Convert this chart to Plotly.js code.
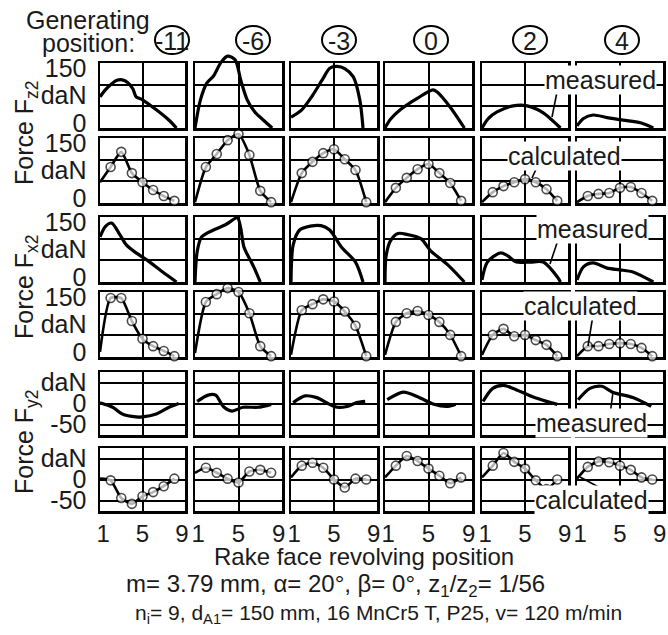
<!DOCTYPE html>
<html>
<head>
<meta charset="utf-8">
<script src="https://cdn.plot.ly/plotly-3.0.1.min.js"></script>
<style>html,body{margin:0;padding:0;background:#fff;}#chart{width:668px;height:635px;}</style>
</head>
<body>
<div id="chart"></div>
<script>
// ---------------- data ----------------
const positions = ['-11', '-6', '-3', '0', '2', '4'];
const calcX = [1, 2, 3, 4, 5, 6, 7, 8];

const xLabelVals = [1.3, 5, 8.7];          // where the 1 / 5 / 9 labels sit (kept inside each panel)
const xLabelText = ['1', '5', '9'];
const xGridVals = [5];
const fLabelVals = [12, 75, 138];          // where the 0 / daN / 150 labels sit
const fLabelText = ['0', 'daN', '150'];
const fGridVals = [50, 100];
const fyTickVals = [-50, 0, 50];
const fyTickText = ['-50', '0', 'daN'];

// Force Fz2, measured
const fzMeasX = [
  [1, 1.5, 2, 2.6, 3.1, 3.6, 4.1, 4.4, 5, 6.3, 7.5, 8.2],
  [1, 1.5, 2.1, 2.7, 3.4, 4.0, 4.7, 5.2, 5.8, 6.5, 7.3, 8.1],
  [1, 2, 3, 4, 4.6, 5.3, 6.0, 6.8, 7.4, 7.7],
  [1, 1.5, 2.4, 4.0, 5.4, 5.8, 7.0, 8.3],
  [1, 1.6, 2.4, 3.9, 5.2, 6.7, 8.0, 8.3],
  [1, 1.6, 2.5, 3.8, 5.3, 6.9, 8.1]
];
const fzMeasY = [
  [72, 88, 100, 110, 111, 105, 90, 72, 65, 42, 18, 0],
  [0, 65, 104, 120, 152, 166, 157, 111, 65, 37, 18, 0],
  [25, 42, 75, 115, 138, 142, 137, 118, 65, 0],
  [0, 20, 42, 69, 88, 83, 48, 0],
  [0, 22, 37, 51, 51, 35, 7, 0],
  [5, 22, 30, 24, 18, 12, 0]
];
// Force Fz2, calculated
const fzCalc = [
  [48, 83, 118, 69, 48, 30, 16, 5],
  [2, 83, 113, 145, 159, 111, 28, 2],
  [2, 69, 95, 115, 124, 101, 76, 2],
  [2, 35, 58, 78, 90, 69, 46, 5],
  [2, 25, 39, 48, 55, 48, 32, 5],
  [2, 16, 21, 23, 35, 37, 23, 5]
];
// Force Fx2, measured
const fxMeasX = [
  [1, 1.5, 2.1, 2.9, 3.5, 4.3, 5.4, 6.9, 8.2],
  [1, 1.2, 1.6, 2.7, 3.8, 4.9, 5.2, 5.5, 6.4, 7.0],
  [1, 1.2, 1.8, 2.8, 3.8, 4.6, 5.7, 7.0, 7.7],
  [1, 1.1, 1.5, 2.2, 3.0, 4.3, 5.2, 6.8, 8.3],
  [1, 1.5, 2.7, 3.3, 4.2, 5.5, 6.7, 8.0, 8.3],
  [1, 1.6, 2.5, 3.8, 5.0, 6.2, 8.1]
];
const fxMeasY = [
  [104, 128, 136, 108, 85, 69, 51, 23, 0],
  [0, 70, 104, 120, 132, 148, 125, 81, 35, 0],
  [0, 85, 120, 129, 130, 120, 80, 46, 0],
  [0, 60, 95, 112, 110, 100, 72, 39, 0],
  [5, 46, 67, 62, 46, 46, 46, 12, 0],
  [5, 35, 44, 32, 28, 23, 0]
];
// Force Fx2, calculated
const fxCalc = [
  [12, 136, 136, 83, 42, 25, 14, 2],
  [9, 127, 145, 159, 150, 101, 25, 2],
  [5, 108, 122, 133, 128, 105, 72, 2],
  [5, 81, 101, 106, 97, 81, 51, 2],
  [5, 51, 65, 48, 51, 39, 28, 2],
  [2, 25, 25, 30, 32, 30, 21, 2]
];
// Force Fy2, measured
const fyMeasX = [
  [1, 2.2, 3.1, 4.4, 5.0, 6.3, 7.5, 8.4],
  [1.2, 2.2, 2.9, 3.6, 4.4, 5.4, 6.8, 8.0],
  [1.2, 2.3, 3.4, 4.6, 5.3, 6.2, 7.1, 7.9],
  [1.2, 2.7, 4.0, 5.5, 6.8, 7.5],
  [1.1, 2.0, 3.0, 3.9, 5.7, 7.0, 8.0],
  [1.1, 2.2, 3.3, 4.3, 6.2, 7.9]
];
const fyMeasY = [
  [2, -9, -25, -32, -32, -25, -9, 0],
  [5, 20, 20, -7, -18, -9, -9, -2],
  [2, 18, 14, -2, -9, -7, 2, 5],
  [9, 27, 16, -2, -7, -2],
  [5, 36, 43, 36, 16, 5, -2],
  [9, 36, 41, 27, 14, -7]
];
// Force Fy2, calculated
const fyCalc = [
  [2, -2, -44, -58, -40, -30, -16, 2],
  [16, 28, 16, 2, -7, 19, 23, 16],
  [5, 33, 40, 28, 0, -19, 2, 0],
  [5, 33, 56, 44, 26, 9, -9, 5],
  [5, 33, 63, 42, 26, -2, -23, 0],
  [2, 30, 43, 41, 33, 23, 5, 0]
];

// ---------------- layout helpers ----------------
const W = 668, H = 635;
const px = v => v / W;
const py = v => 1 - v / H;
const colPx = [[100,185],[195,282],[291,377],[385,472],[482,568],[577,663]];
const rowPx = [[63,128],[138,203],[217,282],[292,357],[372,435],[448,511]];
const PAD = 18;   // extra room so curves may run past the frame, as in the original

const rowsSpec = [
  {kind: 'meas', X: fzMeasX, Y: fzMeasY, fy: false},
  {kind: 'calc', Y: fzCalc, fy: false},
  {kind: 'meas', X: fxMeasX, Y: fxMeasY, fy: false},
  {kind: 'calc', Y: fxCalc, fy: false},
  {kind: 'meas', X: fyMeasX, Y: fyMeasY, fy: true},
  {kind: 'calc', Y: fyCalc, fy: true}
];

const FONT = 'Liberation Sans, Arial, Helvetica, sans-serif';
const INK = '#1a1a1a';
const frameTraces = [];
const dataTraces = [];
const layout = {
  width: W, height: H,
  margin: {l: 0, r: 0, t: 0, b: 0},
  paper_bgcolor: '#fff', plot_bgcolor: 'rgba(0,0,0,0)',
  showlegend: false,
  font: {family: FONT, size: 25, color: INK},
  annotations: [], shapes: []
};

rowsSpec.forEach((spec, r) => {
  const yRange = spec.fy ? [-75, 75] : [0, 150];
  for (let c = 0; c < 6; c++) {
    const k = r * 6 + c + 1;
    const fs = k === 1 ? '' : String(k);
    const ds = String(k + 36);
    const [L, R] = colPx[c];
    const [T, B] = rowPx[r];

    // visible frame (border, grid, labels) - an empty trace makes Plotly draw it
    frameTraces.push({type: 'scatter', mode: 'lines', x: [], y: [], xaxis: 'x' + fs, yaxis: 'y' + fs, hoverinfo: 'skip'});
    layout['xaxis' + fs] = {
      domain: [px(L), px(R)], range: [1, 9], anchor: 'y' + fs, autorange: false,
      tickmode: 'array', tickvals: xLabelVals, ticktext: xLabelText,
      showticklabels: r === 5, ticks: '', ticklabeloverflow: 'allow', ticklabelstandoff: 0,
      showgrid: false,
      minor: {tickmode: 'array', tickvals: xGridVals, showgrid: true, gridcolor: '#000', gridwidth: 2, ticks: ''},
      showline: true, mirror: true, linecolor: '#000', linewidth: 2.5,
      zeroline: false, fixedrange: true,
      tickfont: {size: 24, family: FONT, color: INK}
    };
    const ya = {
      domain: [py(B), py(T)], range: yRange, anchor: 'x' + fs, autorange: false, ticks: '',
      showticklabels: c === 0, ticklabelstandoff: 6, ticklabeloverflow: 'allow',
      showline: true, mirror: true, linecolor: '#000', linewidth: 2.5,
      zeroline: false, fixedrange: true,
      tickfont: {size: 25, family: FONT, color: INK}
    };
    if (spec.fy) {
      Object.assign(ya, {tickmode: 'array', tickvals: fyTickVals, ticktext: fyTickText,
        showgrid: true, gridcolor: '#000', gridwidth: 2});
    } else {
      Object.assign(ya, {tickmode: 'array', tickvals: fLabelVals, ticktext: fLabelText,
        showgrid: false,
        minor: {tickmode: 'array', tickvals: fGridVals, showgrid: true, gridcolor: '#000', gridwidth: 2, ticks: ''}});
    }
    layout['yaxis' + fs] = ya;

    // data axes: same scale, slightly larger box so curves are not cut at the frame
    const pl = Math.min(PAD, L), pr = Math.min(PAD, W - R - 0.5);
    const upx = 8 / (R - L);
    const vpx = (yRange[1] - yRange[0]) / (B - T);
    layout['xaxis' + ds] = {
      domain: [px(L - pl), px(R + pr)], range: [1 - pl * upx, 9 + pr * upx], autorange: false,
      anchor: 'y' + ds, visible: false, fixedrange: true
    };
    layout['yaxis' + ds] = {
      domain: [py(B + PAD), py(T - PAD)], range: [yRange[0] - PAD * vpx, yRange[1] + PAD * vpx], autorange: false,
      anchor: 'x' + ds, visible: false, fixedrange: true
    };

    if (spec.kind === 'meas') {
      dataTraces.push({
        type: 'scatter', mode: 'lines', x: spec.X[c], y: spec.Y[c],
        xaxis: 'x' + ds, yaxis: 'y' + ds,
        line: {color: '#000', width: 3.2, shape: 'spline', smoothing: 0.8},
        hoverinfo: 'skip'
      });
    } else {
      dataTraces.push({
        type: 'scatter', mode: 'lines+markers', x: calcX, y: spec.Y[c],
        xaxis: 'x' + ds, yaxis: 'y' + ds,
        line: {color: '#000', width: 2.6, shape: 'spline', smoothing: 0.6},
        marker: {symbol: 'circle', color: '#fff',
                 size: calcX.map((v, i) => i === 0 ? 0 : 9),
                 line: {color: '#000', width: 1.6}},
        hoverinfo: 'skip'
      });
    }
  }
});

// ---------------- text & decorations ----------------
const A = layout.annotations, S = layout.shapes;
function txt(text, x, y, opts) {
  A.push(Object.assign({text: text, x: px(x), y: py(y), xref: 'paper', yref: 'paper',
    showarrow: false, xanchor: 'center', yanchor: 'middle',
    font: {family: FONT, size: 25, color: INK}}, opts || {}));
}
function seg(x0, y0, x1, y1, w) {
  S.push({type: 'line', xref: 'paper', yref: 'paper', x0: px(x0), y0: py(y0), x1: px(x1), y1: py(y1),
    line: {color: '#000', width: w || 1.6}, layer: 'above'});
}

txt('Generating', 24, 20, {xanchor: 'left'});
txt('position:', 40, 43, {xanchor: 'left'});

const circX = [172, 253, 339, 431, 530, 622];
positions.forEach((p, i) => {
  S.push({type: 'circle', xref: 'paper', yref: 'paper',
    x0: px(circX[i] - 17), x1: px(circX[i] + 17), y0: py(54), y1: py(26),
    line: {color: '#000', width: 2}, fillcolor: 'rgba(0,0,0,0)'});
  txt(p, circX[i], 41);
});

txt('Force F<sub>z2</sub>', 26, 133, {textangle: -90});
txt('Force F<sub>x2</sub>', 26, 287, {textangle: -90});
txt('Force F<sub>y2</sub>', 26, 442, {textangle: -90});

const lbl = {bgcolor: '#fff', borderpad: 0};
seg(558, 87, 552, 117);
txt('measured', 600, 80, lbl);
seg(538, 165, 532, 178);
txt('calculated', 564, 156, lbl);
seg(559, 237, 550, 264);
txt('measured', 592, 229, lbl);
seg(593, 315, 588, 346);
txt('calculated', 580, 306, lbl);
seg(613, 392, 610, 415);
txt('measured', 591, 423, lbl);
seg(580, 477, 606, 491);
txt('calculated', 591, 500, lbl);

txt('Rake face revolving position', 364, 556, {font: {family: FONT, size: 24, color: INK}});
txt('m= 3.79 mm, \u03b1= 20\u00b0, \u03b2= 0\u00b0, z<sub>1</sub>/z<sub>2</sub>= 1/56', 335, 585, {font: {family: FONT, size: 24, color: INK}});
txt('n<sub>i</sub>= 9, d<sub>A1</sub>= 150 mm, 16 MnCr5 T, P25, v= 120 m/min', 379, 614, {font: {family: FONT, size: 21, color: INK}});

Plotly.newPlot('chart', frameTraces.concat(dataTraces), layout, {staticPlot: true, displayModeBar: false});
</script>
</body>
</html>
